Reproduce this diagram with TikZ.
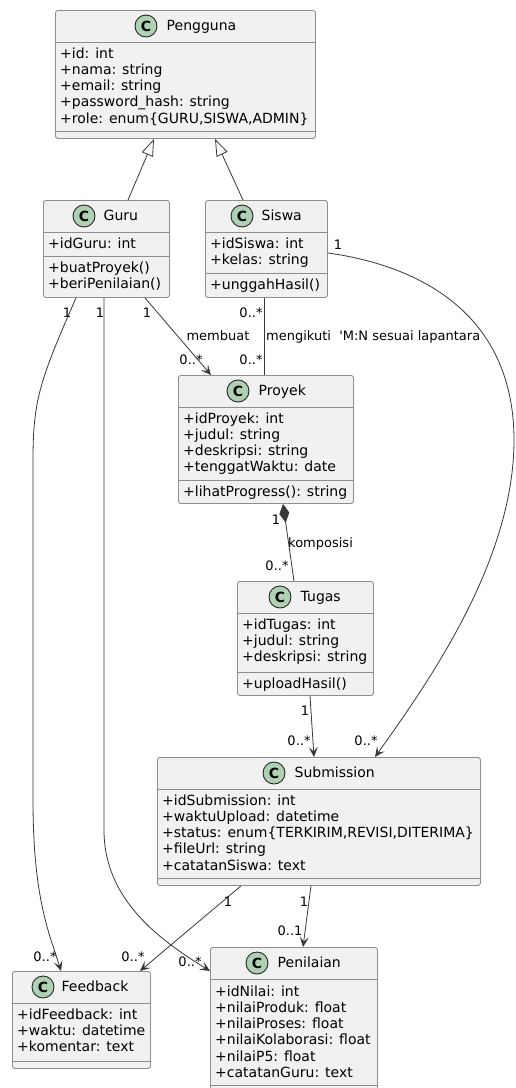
\documentclass[tikz,border=0pt]{standalone}
\usepackage{fontspec}
\setmainfont{DejaVu Sans}
\usetikzlibrary{arrows.meta}

\definecolor{boxfill}{HTML}{F1F1F1}
\definecolor{boxline}{HTML}{8E8E8E}
\definecolor{iconfill}{HTML}{ADD1B2}
\definecolor{wire}{HTML}{383838}

\tikzset{
  classbox/.style={draw=boxline, fill=boxfill, rounded corners=2.5pt, line width=0.9pt,
    inner sep=0, anchor=north west},
  rule/.style={draw=boxline, line width=0.9pt},
  icon/.style={circle, draw=black!85, line width=0.9pt, fill=iconfill, minimum size=22pt,
    inner sep=0, font=\fontsize{14}{14}\selectfont\bfseries},
  cname/.style={anchor=base west, inner sep=0, font=\fontsize{14}{16}\selectfont},
  member/.style={anchor=base west, inner sep=0, font=\fontsize{14}{16}\selectfont},
  lbl/.style={inner sep=0, font=\fontsize{13}{15}\selectfont},
  lblbase/.style={lbl, anchor=base west},
  assoc/.style={draw=wire, line width=0.8pt},
  navig/.style={assoc, -{Stealth[length=10pt,width=9pt,inset=4.5pt]}},
  inherit/.style={assoc, -{Triangle[open,length=17pt,width=12pt]}},
  compose/.style={assoc, {Diamond[length=19pt,width=10pt]}-},
}

% class header: node prefix, icon centre x, box top y, title x, title
\newcommand\classhead[5]{%
  \node[icon] (#1-icon) at ({#2},{#3+16}) {C};
  \node[cname] (#1-title) at ({#4},{#3+20.5}) {#5};
}
% compartment lines: node name, offsets of the two separators from the top
\newcommand\classrules[3]{%
  \draw[rule] ([yshift=-#2pt]#1.north west) -- ([yshift=-#2pt]#1.north east);
  \draw[rule] ([yshift=-#3pt]#1.north west) -- ([yshift=-#3pt]#1.north east);
}
% member lines: node prefix, x, first baseline y, list of lines
\newcommand\members[4]{%
  \foreach \mtext [count=\k] in {#4} {
    \node[member] (#1-\k) at ({#2},{#3+16.3*(\k-1)}) {\mtext};
  }%
}

\begin{document}
\begin{tikzpicture}[x=1pt, y=-1pt]
\useasboundingbox[fill=white] (0,0) rectangle (515,1088);

% ---------- Pengguna ----------
\node[classbox, minimum width=260pt, minimum height=128pt] (pengguna) at (55,10) {};
\classrules{pengguna}{32}{121}
\classhead{pengguna}{146}{10}{166.5}{Pengguna}
\members{pengguna-a}{60}{58}{+id: int, +nama: string, +email: string, +password\_hash: string,
  {+role: enum\{GURU,SISWA,ADMIN\}}}

% ---------- Guru ----------
\node[classbox, minimum width=126pt, minimum height=97pt] (guru) at (43,200) {};
\classrules{guru}{32}{56}
\classhead{guru}{84}{200}{103.5}{Guru}
\members{guru-a}{48}{248}{+idGuru: int}
\members{guru-m}{48}{272}{+buatProyek(), +beriPenilaian()}

% ---------- Siswa ----------
\node[classbox, minimum width=122pt, minimum height=97pt] (siswa) at (205,200) {};
\classrules{siswa}{32}{73}
\classhead{siswa}{242}{200}{261.5}{Siswa}
\members{siswa-a}{210}{248}{+idSiswa: int, +kelas: string}
\members{siswa-m}{210}{289}{+unggahHasil()}

% ---------- Proyek ----------
\node[classbox, minimum width=175pt, minimum height=128pt] (proyek) at (178,375) {};
\classrules{proyek}{32}{105}
\classhead{proyek}{238}{375}{258.5}{Proyek}
\members{proyek-a}{183}{423}{+idProyek: int, +judul: string, +deskripsi: string, +tenggatWaktu: date}
\members{proyek-m}{183}{496}{+lihatProgress(): string}

% ---------- Tugas ----------
\node[classbox, minimum width=136pt, minimum height=114pt] (tugas) at (237,581) {};
\classrules{tugas}{32}{91}
\classhead{tugas}{280}{581}{300.5}{Tugas}
\members{tugas-a}{242}{629}{+idTugas: int, +judul: string, +deskripsi: string}
\members{tugas-m}{242}{688}{+uploadHasil()}

% ---------- Submission ----------
\node[classbox, minimum width=323pt, minimum height=128pt] (submission) at (157,757) {};
\classrules{submission}{32}{121}
\classhead{submission}{274}{757}{294.5}{Submission}
\members{submission-a}{162}{805}{+idSubmission: int, +waktuUpload: datetime,
  {+status: enum\{TERKIRIM,REVISI,DITERIMA\}}, +fileUrl: string, +catatanSiswa: text}

% ---------- Feedback ----------
\node[classbox, minimum width=138pt, minimum height=97pt] (feedback) at (12,971) {};
\classrules{feedback}{32}{90}
\classhead{feedback}{43}{971}{61.5}{Feedback}
\members{feedback-a}{17}{1019}{+idFeedback: int, +waktu: datetime, +komentar: text}

% ---------- Penilaian ----------
\node[classbox, minimum width=167pt, minimum height=145pt] (penilaian) at (210,947) {};
\classrules{penilaian}{32}{138}
\classhead{penilaian}{257}{947}{277.5}{Penilaian}
\members{penilaian-a}{215}{996}{+idNilai: int, +nilaiProduk: float, +nilaiProses: float,
  +nilaiKolaborasi: float, +nilaiP5: float, +catatanGuru: text}

% ---------- generalisation ----------
\draw[inherit] ([xshift=85pt]guru.north west) -- ([xshift=99pt]pengguna.south west);
\draw[inherit] ([xshift=38pt]siswa.north west) -- ([xshift=160pt]pengguna.south west);

% ---------- Guru membuat Proyek ----------
\draw[navig] ([xshift=102pt]guru.south west) -- ([xshift=33pt]proyek.north west);
\node[lbl] (l-gp-src) at (147,313) {1};
\node[lbl] (l-gp-dst) at (191,360) {0..*};
\node[lbl] (l-gp-name) at (218,336) {membuat};

% ---------- Siswa mengikuti Proyek ----------
\draw[assoc] ([xshift=59pt]siswa.south west) -- ([xshift=86pt]proyek.north west);
\node[lbl] (l-sp-src) at (251,313) {0..*};
\node[lbl] (l-sp-dst) at (251,360) {0..*};
\node[lblbase] (l-sp-name) at (266,340.5) {mengikuti\ \ \textquotesingle M:N sesuai lapantara};

% ---------- Siswa -> Submission ----------
\draw[navig] ([yshift=-4pt]siswa.east) .. controls (435,268) and (514,325) .. (514,440)
  .. controls (514,560) and (430,680) .. ([xshift=218pt]submission.north west);
\node[lbl] (l-ss-src) at (338,245) {1};
\node[lbl] (l-ss-dst) at (366,741) {0..*};

% ---------- Guru -> Feedback ----------
\draw[navig] ([xshift=33pt]guru.south west) .. controls (40,380) and (33,400) .. (33,460)
  -- (33,800) .. controls (33,900) and (50,935) .. ([xshift=49pt]feedback.north west);
\node[lbl] (l-gf-src) at (67,313) {1};
\node[lbl] (l-gf-dst) at (45,957) {0..*};

% ---------- Guru -> Penilaian ----------
\draw[navig] ([xshift=61pt]guru.south west) -- (104,830)
  .. controls (104,900) and (160,940) .. ([yshift=-24pt]penilaian.north west);
\node[lbl] (l-gn-src) at (100,313) {1};
\node[lbl] (l-gn-dst) at (190,962) {0..*};

% ---------- Proyek composed of Tugas ----------
\draw[compose] ([xshift=105pt]proyek.south west) -- ([xshift=57pt]tugas.north west);
\node[lbl] (l-pt-src) at (276,520) {1};
\node[lbl] (l-pt-dst) at (277,566) {0..*};
\node[lblbase] (l-pt-name) at (288,547.5) {komposisi};

% ---------- Tugas -> Submission ----------
\draw[navig] ([xshift=73pt]tugas.south west) -- ([xshift=157pt]submission.north west);
\node[lbl] (l-ts-src) at (305,711) {1};
\node[lbl] (l-ts-dst) at (299,741) {0..*};

% ---------- Submission -> Feedback ----------
\draw[navig] ([xshift=84pt]submission.south west) -- ([xshift=128pt]feedback.north west);
\node[lbl] (l-sf-src) at (228,902) {1};
\node[lbl] (l-sf-dst) at (133,957) {0..*};

% ---------- Submission -> Penilaian ----------
\draw[navig] ([xshift=154pt]submission.south west) -- ([xshift=93pt]penilaian.north west);
\node[lbl] (l-sn-src) at (304,902) {1};
\node[lbl] (l-sn-dst) at (290,931) {0..1};
\end{tikzpicture}
\end{document}
